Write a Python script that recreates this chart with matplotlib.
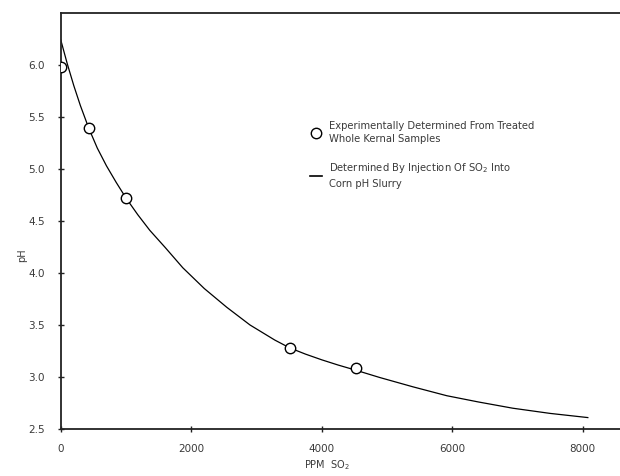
import matplotlib
matplotlib.use("Agg")
import matplotlib.pyplot as plt
from matplotlib.lines import Line2D

# Slurry injection curve
curve_ppm = [0, 100, 200, 300, 430, 560, 700, 850, 1000, 1180, 1364, 1600,
             1870, 2200, 2544, 2900, 3280, 3508, 3750, 4000, 4250, 4523,
             4889, 5400, 5916, 6400, 6927, 7500, 8077]
curve_ph = [6.24, 6.01, 5.80, 5.61, 5.39, 5.20, 5.03, 4.87, 4.72, 4.56,
            4.41, 4.245, 4.05, 3.85, 3.67, 3.50, 3.355, 3.28, 3.22, 3.165,
            3.115, 3.065, 2.995, 2.905, 2.82, 2.76, 2.70, 2.65, 2.61]

# Whole kernel samples
sample_ppm = [0, 430, 1000, 3508, 4523]
sample_ph = [5.98, 5.39, 4.72, 3.28, 3.09]

xticks = [0, 2000, 4000, 6000, 8000]
yticks = [2.5, 3.0, 3.5, 4.0, 4.5, 5.0, 5.5, 6.0]

plt.rcParams['font.family'] = ['DejaVu Sans']
txt = '#3a3a3a'

fig = plt.figure(figsize=(6.2, 4.76), dpi=100)
ax = fig.add_axes([0.098, 0.0987, 0.902, 0.8743])

ax.plot(curve_ppm, curve_ph, color='black', lw=0.9, zorder=2)
ax.plot(sample_ppm, sample_ph, 'o', ms=7.5, mfc='white', mec='black',
        mew=1.0, zorder=3)

ax.set_xlim(0, 8570)
ax.set_ylim(2.5, 6.5)
ax.set_xticks(xticks)
ax.set_xticklabels([str(t) for t in xticks])
ax.set_yticks(yticks)
ax.set_yticklabels([f"{t:.1f}" for t in yticks])

ax.spines['right'].set_visible(False)
for s in ['left', 'top', 'bottom']:
    ax.spines[s].set_linewidth(1.3)
    ax.spines[s].set_color('#222222')

ax.tick_params(axis='both', direction='inout', length=5, width=1.0,
               colors='#222222', labelcolor=txt, labelsize=7.5)
ax.tick_params(axis='y', pad=9)
ax.tick_params(axis='x', pad=8)

fig.text(327 / 620, 1 - 465 / 476, "PPM  SO$_2$", ha='center', va='center',
         fontsize=7, color=txt)
fig.text(22 / 620, 1 - 255 / 476, "pH", ha='center', va='center',
         rotation=90, fontsize=7, color=txt)

handles = [
    Line2D([], [], ls='none', marker='o', ms=7.5, mfc='white', mec='black',
           mew=1.0),
    Line2D([], [], color='black', lw=1.2),
]
labels = [
    "Experimentally Determined From Treated\nWhole Kernal Samples",
    "Determined By Injection Of SO$_2$ Into\nCorn pH Slurry",
]
leg = ax.legend(handles, labels, loc='upper left',
                bbox_to_anchor=((310 - 61) / 559, 1 - (121 - 13) / 416),
                bbox_transform=ax.transAxes, frameon=False, fontsize=7.2,
                handlelength=1.2, handletextpad=0.7, labelspacing=1.7,
                borderpad=0, borderaxespad=0)
for t in leg.get_texts():
    t.set_color(txt)
    t.set_linespacing(1.45)

fig.savefig("out.png", dpi=100)
